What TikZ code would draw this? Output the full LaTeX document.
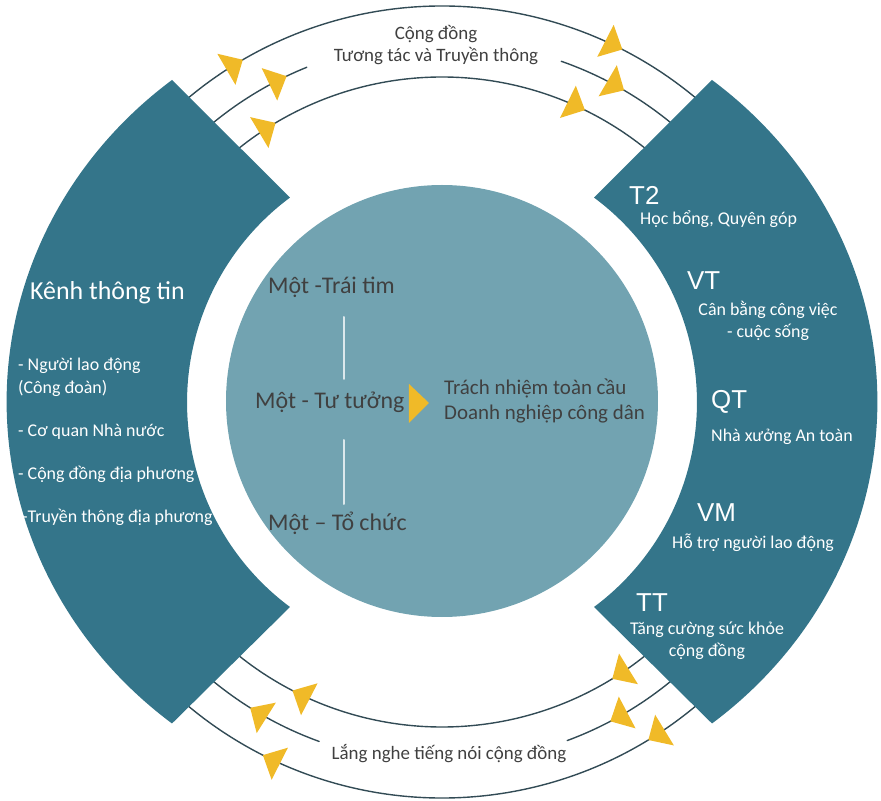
\documentclass[tikz,border=0pt]{standalone}
\usepackage{fontspec}
\setmainfont{Carlito}
\newfontfamily\arialfont{Liberation Sans}
\begin{document}
\begin{tikzpicture}[
    x=1bp, y=1bp,
    line join=round,
    line cap=round,
    bandtext/.style={text=white, inner sep=0pt, anchor=west, font=\fontsize{18}{22}\selectfont},
    codetext/.style={text=white, inner sep=0pt, anchor=west, font=\arialfont\fontsize{26}{30}\selectfont},
    hubtext/.style={text=darktext, inner sep=0pt, anchor=west, font=\fontsize{24}{28}\selectfont},
    ringtext/.style={text=darktext, inner sep=0pt, align=center, font=\fontsize{19}{22}\selectfont},
    flowarc/.style={draw=flowline, line width=1.4pt}
]

% Colors
\definecolor{bandteal}{RGB}{52,117,138}
\definecolor{hubteal}{RGB}{114,163,177}
\definecolor{flowyellow}{RGB}{240,186,40}
\definecolor{flowline}{RGB}{50,75,85}
\definecolor{darktext}{RGB}{64,64,64}
\definecolor{stemline}{RGB}{220,232,236}

\useasboundingbox (-442,-399) rectangle (439,402);

% ----------------------------------------------------
% Flow arcs, drawn first so that the bands hide their ends
% ----------------------------------------------------
% top
\path[flowarc] (140:396) arc[start angle=140, end angle=40, radius=396];
\path[flowarc] (140:361) arc[start angle=140, end angle=112, radius=361];
\path[flowarc] (70.7:361) arc[start angle=70.7, end angle=40, radius=361];
\path[flowarc] (140:325) arc[start angle=140, end angle=40, radius=325];
% bottom
\path[flowarc] (220:396) arc[start angle=220, end angle=320, radius=396];
\path[flowarc] (220:361) arc[start angle=220, end angle=250.1, radius=361];
\path[flowarc] (290.3:361) arc[start angle=290.3, end angle=320, radius=361];
\path[flowarc] (220:325) arc[start angle=220, end angle=320, radius=325];

% ----------------------------------------------------
% Side bands
% ----------------------------------------------------
\path[fill=bandteal]
(-270,322) arc[start angle=128.3, end angle=231.7, x radius=435, y radius=410]
-- (-152,-205) arc[start angle=233.4, end angle=126.6, radius=255]
-- cycle;

\path[fill=bandteal]
(270,322) arc[start angle=51.7, end angle=-51.7, x radius=435, y radius=410]
-- (152,-205) arc[start angle=-53.4, end angle=53.4, radius=255]
-- cycle;

% ----------------------------------------------------
% Arrow tips along the arcs (clockwise flow)
% ----------------------------------------------------
\newcommand{\flowtip}[2]{%
\fill[flowyellow, shift={(#1:#2)}, rotate=#1-90]
(0,0) -- (-19,18) -- (-19,-18) -- cycle;
}

\flowtip{120.2}{396}
\flowtip{62.9}{396}
\flowtip{115.5}{361}
\flowtip{59.7}{361}
\flowtip{120.8}{325}
\flowtip{63.9}{325}

\flowtip{243.1}{396}
\flowtip{301.4}{396}
\flowtip{237.9}{361}
\flowtip{297.8}{361}
\flowtip{242.6}{325}
\flowtip{301.6}{325}

% ----------------------------------------------------
% Hub circle
% ----------------------------------------------------
\path[fill=hubteal] (0,1) circle[radius=216];

\node[hubtext] (heart) at (-174,115) {Một -Trái tim};
\node[hubtext] (mind) at (-187,0) {Một - Tư tưởng};
\node[hubtext] (org) at (-174,-121) {Một – Tổ chức};

\coordinate (stemA) at (-98,85);
\coordinate (stemB) at (-98,23);
\coordinate (stemC) at (-98,-38);
\coordinate (stemD) at (-98,-102);
\draw[stemline, line width=2pt] (stemA) -- (stemB);
\draw[stemline, line width=2pt] (stemC) -- (stemD);

\fill[flowyellow] (-33,18) -- (-13,-1) -- (-33,-21) -- cycle;

\node[hubtext, align=left, font=\fontsize{21}{26}\selectfont] (goal) at (2,1)
{Trách nhiệm toàn cầu\\Doanh nghiệp công dân};

% ----------------------------------------------------
% Left band labels
% ----------------------------------------------------
\node[bandtext, font=\fontsize{26}{30}\selectfont] (kenh) at (-412,109) {Kênh thông tin};
\node[bandtext] (worker) at (-424,36) {- Người lao động};
\node[bandtext] (union) at (-424,14) {(Công đoàn)};
\node[bandtext] (state) at (-424,-30) {- Cơ quan Nhà nước};
\node[bandtext] (local) at (-424,-72) {- Cộng đồng địa phương};
\node[bandtext] (media) at (-420,-115) {-Truyền thông địa phương};

% ----------------------------------------------------
% Right band labels
% ----------------------------------------------------
\node[codetext] (t2) at (187,207) {T2};
\node[bandtext] (t2txt) at (198,183) {Học bổng, Quyên góp};
\node[codetext] (vt) at (245,121) {VT};
\node[bandtext, anchor=center, align=center] (vttxt) at (326,81) {Cân bằng công việc\\- cuộc sống};
\node[codetext] (qt) at (269,0) {QT};
\node[bandtext] (qttxt) at (269,-35) {Nhà xưởng An toàn};
\node[codetext] (vm) at (255,-111) {VM};
\node[bandtext] (vmtxt) at (230,-141) {Hỗ trợ người lao động};
\node[codetext] (tt) at (194,-201) {TT};
\node[bandtext, anchor=center, align=center] (tttxt) at (265,-239) {Tăng cường sức khỏe\\cộng đồng};

% ----------------------------------------------------
% Ring labels
% ----------------------------------------------------
\node[ringtext] (toplbl) at (-6,357) {Cộng đồng\\Tương tác và Truyền thông};
\node[ringtext] (botlbl) at (7,-352) {Lắng nghe tiếng nói cộng đồng};

\end{tikzpicture}
\end{document}
